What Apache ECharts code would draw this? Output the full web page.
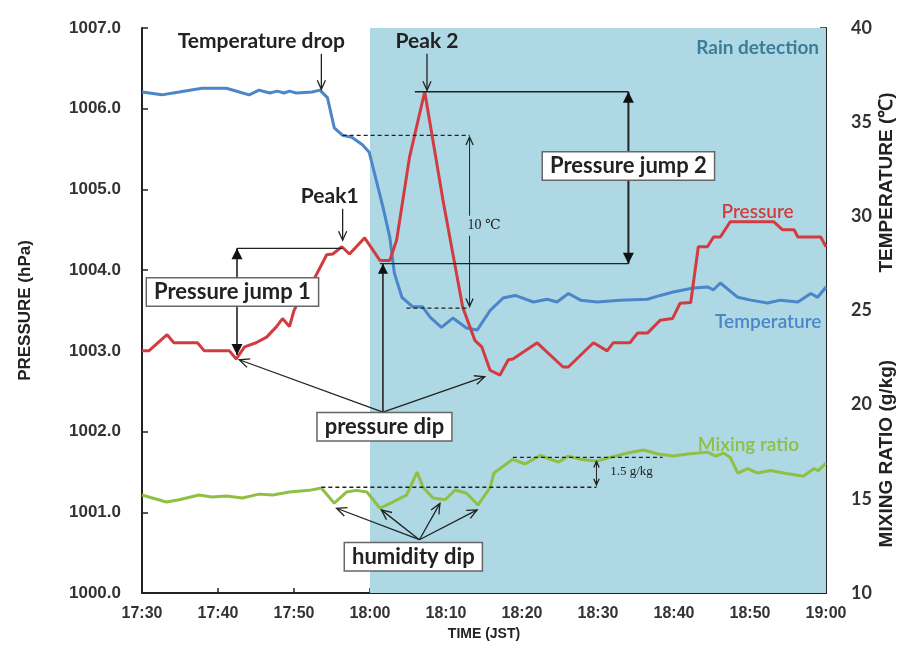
<!DOCTYPE html>
<html><head><meta charset="utf-8">
<script src="https://cdn.jsdelivr.net/npm/echarts@6/dist/echarts.min.js"></script>
<style>html,body{margin:0;padding:0;background:#fff}#c{width:905px;height:657px}</style>
</head><body><div id="c"></div>
<script>
// x values are minutes after 17:30 JST
const timeLabels = ['17:30','17:40','17:50','18:00','18:10','18:20','18:30','18:40','18:50','19:00'];

const pressureTime  = [0,0.9,3.3,4.2,7.3,8.2,11.5,12.4,13.5,15.0,16.4,17.7,18.5,19.4,20.0,20.7,22.7,24.3,25.1,26.3,27.3,29.3,31.3,32.6,33.5,35.2,37.2,39.6,42.2,43.8,44.7,45.8,47.1,48.2,48.8,52.0,55.4,56.1,59.4,61.2,62.0,64.2,65.2,66.5,68.2,69.8,70.8,72.2,73.2,74.4,75.2,76.1,77.4,83.1,84.3,85.8,86.3,89.3,90];
const pressureValue = [1003.0,1003.0,1003.2,1003.1,1003.1,1003.0,1003.0,1002.9,1003.05,1003.1,1003.17,1003.3,1003.4,1003.3,1003.5,1003.63,1003.9,1004.19,1004.2,1004.29,1004.2,1004.4,1004.12,1004.12,1004.37,1005.4,1006.21,1004.87,1003.54,1003.13,1003.05,1002.76,1002.7,1002.89,1002.9,1003.1,1002.8,1002.8,1003.1,1003.0,1003.1,1003.1,1003.22,1003.22,1003.38,1003.4,1003.59,1003.6,1004.29,1004.29,1004.41,1004.41,1004.6,1004.6,1004.5,1004.5,1004.41,1004.41,1004.29];

const temperatureTime  = [0,2.6,4.9,7.9,11.1,12.8,14.1,15.4,16.8,17.8,18.7,19.4,20.3,22.4,23.4,24.4,25.3,26.4,27.6,29.0,29.9,31.7,32.6,33.2,34.2,35.6,36.9,37.9,39.4,40.9,42.7,44.1,45.8,47.5,49.1,51.5,53.3,54.6,56.1,57.7,59.9,62.9,66.5,68.2,69.9,72.6,74.4,75.2,76.1,78.4,80.1,82.3,84.0,86.3,88.0,88.9,90];
const temperatureValue = [36.6,36.45,36.6,36.8,36.8,36.6,36.45,36.7,36.55,36.65,36.55,36.65,36.55,36.6,36.7,36.3,34.7,34.3,34.2,33.8,33.4,30.5,28.9,27.0,25.7,25.2,25.2,24.65,24.1,24.6,24.07,23.96,25.0,25.66,25.8,25.45,25.6,25.45,25.9,25.55,25.45,25.55,25.6,25.8,25.98,26.2,26.25,26.1,26.46,25.7,25.55,25.4,25.55,25.45,25.9,25.7,26.25];

const mixingTime  = [0,3.2,4.9,7.5,9.2,11.1,13.2,15.4,17.2,19.4,22.0,23.6,25.3,26.9,28.2,29.6,31.3,33.0,34.8,36.2,37.0,38.3,39.9,41.2,42.7,44.2,45.8,46.3,48.8,50.4,52.4,54.8,56.1,57.7,59.9,61.6,63.9,66.0,67.9,69.9,71.8,74.4,75.5,76.5,77.4,78.4,79.7,81.0,82.7,84.4,87.0,88.4,89.0,90];
const mixingValue = [15.2,14.83,14.95,15.2,15.1,15.15,15.04,15.25,15.2,15.36,15.45,15.57,14.77,15.36,15.45,15.36,14.5,14.83,15.2,16.42,15.6,15.04,14.95,15.47,15.3,14.67,15.6,16.37,17.1,16.85,17.3,16.95,17.27,17.1,17.0,17.2,17.43,17.59,17.38,17.27,17.38,17.48,17.27,17.43,17.2,16.37,16.6,16.37,16.5,16.37,16.2,16.6,16.5,16.9];

const rainStart = 30, rainEnd = 90;

const RED = '#d23b40', BLUE = '#4a86c8', GREEN = '#8fc044', RAIN = '#aed8e4';
const zip = (a, b) => a.map((v, i) => [v, b[i]]);

const chart = echarts.init(document.getElementById('c'), null, {renderer: 'canvas'});
const SANS = 'Liberation Sans, Arial, sans-serif';

chart.setOption({
  animation: false,
  backgroundColor: '#fff',
  grid: {left: 142, right: 79, top: 28, bottom: 64},
  xAxis: {
    type: 'value', min: 0, max: 90, interval: 10,
    name: 'TIME (JST)', nameLocation: 'middle', nameGap: 33,
    nameTextStyle: {fontFamily: SANS, fontSize: 14, fontWeight: 'bold', color: '#222'},
    axisLine: {show: true, lineStyle: {color: '#222', width: 2}},
    axisTick: {show: true, inside: true, length: 5, lineStyle: {color: '#222', width: 1.5}},
    axisLabel: {fontSize: 16, fontWeight: 'bold', margin: 13, fontFamily: SANS, color: '#333',
      formatter: v => timeLabels[Math.round(v / 10)]},
    splitLine: {show: false}
  },
  yAxis: [{
    type: 'value', min: 1000, max: 1007, interval: 1,
    name: 'PRESSURE (hPa)', nameLocation: 'middle', nameGap: 108, nameRotate: 90,
    nameTextStyle: {fontFamily: SANS, fontSize: 17, fontWeight: 'bold', color: '#222'},
    axisLine: {show: true, lineStyle: {color: '#222', width: 2}},
    axisTick: {show: true, inside: true, length: 6, lineStyle: {color: '#222', width: 1.5}},
    axisLabel: {fontSize: 17, fontWeight: 'bold', margin: 21, fontFamily: SANS, color: '#333',
      formatter: v => v.toFixed(1)},
    splitLine: {show: false}
  }, {
    type: 'value', min: 10, max: 40, interval: 5, position: 'right',
    axisLine: {show: true, lineStyle: {color: '#222', width: 2}},
    axisTick: {show: true, inside: true, length: 6, lineStyle: {color: '#222', width: 1.5}},
    axisLabel: {fontSize: 18, fontWeight: 'bold', margin: 25, fontFamily: 'Lato, Liberation Sans', color: '#333'},
    splitLine: {show: false}
  }],
  series: [{
    type: 'line', name: 'rain', data: [], z: 0, silent: true,
    markArea: {silent: true, itemStyle: {color: RAIN, opacity: 1},
      data: [[{xAxis: rainStart, yAxis: 1000}, {xAxis: rainEnd, yAxis: 1007}]]}
  }, {
    type: 'line', name: 'Temperature', yAxisIndex: 1, data: zip(temperatureTime, temperatureValue),
    showSymbol: false, z: 3, lineStyle: {color: BLUE, width: 3}, itemStyle: {color: BLUE}
  }, {
    type: 'line', name: 'Pressure', yAxisIndex: 0, data: zip(pressureTime, pressureValue),
    showSymbol: false, z: 4, lineStyle: {color: RED, width: 3}, itemStyle: {color: RED}
  }, {
    type: 'line', name: 'Mixing ratio', yAxisIndex: 1, data: zip(mixingTime, mixingValue),
    showSymbol: false, z: 3, lineStyle: {color: GREEN, width: 3}, itemStyle: {color: GREEN}
  }]
});

// ---- annotations, placed in data coordinates (minutes, hPa) ----
const P = (t, p) => chart.convertToPixel({xAxisIndex: 0, yAxisIndex: 0}, [t, p]);
const PR = (t, v) => chart.convertToPixel({xAxisIndex: 0, yAxisIndex: 1}, [t, v]);
const G = [];
const Z = 20;
function seg(a, b, o) {
  o = o || {};
  const A = P(a[0], a[1]), B = P(b[0], b[1]);
  G.push({type: 'line', z: Z, shape: {x1: A[0], y1: A[1], x2: B[0], y2: B[1]},
    style: {stroke: o.color || '#222', lineWidth: o.w || 1.3, lineDash: o.dash || null}});
}
function head(tip, from, filled, size, color) {
  const T = P(tip[0], tip[1]), F = P(from[0], from[1]);
  let dx = T[0] - F[0], dy = T[1] - F[1];
  const L = Math.hypot(dx, dy); dx /= L; dy /= L;
  const s = size || 9, w = filled ? s * 0.5 : s * 0.45;
  const bx = T[0] - dx * s, by = T[1] - dy * s;
  const p1 = [bx - dy * w, by + dx * w], p2 = [bx + dy * w, by - dx * w];
  if (filled) G.push({type: 'polygon', z: Z + 1, shape: {points: [T, p1, p2]}, style: {fill: color || '#111'}});
  else G.push({type: 'polyline', z: Z + 1, shape: {points: [p1, T, p2]}, style: {stroke: color || '#222', lineWidth: 1.3, fill: null}});
}
function arrow(a, b, filled, size, o) { seg(a, b, o); head(b, a, filled, size); }
function dbl(a, b, filled, size, o) { seg(a, b, o); head(b, a, filled, size); head(a, b, filled, size); }
const LATO = 'Lato, "Liberation Sans", sans-serif';
function txt(t, p, s, st) {
  const X = P(t, p);
  G.push({type: 'text', z: Z + 2, x: X[0], y: X[1], style: Object.assign({
    text: s, align: 'center', verticalAlign: 'middle', fill: '#222',
    font: 'bold 21px ' + LATO}, st || {})});
}
function box(t, p, s) {
  txt(t, p, s, {backgroundColor: '#fff', borderColor: '#666', borderWidth: 1.5, padding: [3, 7, 2, 7],
    font: 'bold 22px ' + LATO});
}

// Temperature drop
txt(15.7, 1006.83, 'Temperature drop');
arrow([23.6, 1006.68], [23.6, 1006.24], false, 9);
// Peak 2
txt(37.5, 1006.83, 'Peak 2');
arrow([37.5, 1006.68], [37.5, 1006.23], false, 9);
// Rain detection
txt(81.0, 1006.75, 'Rain detection', {fill: '#3b7c98', font: 'bold 19px ' + LATO});
// Pressure jump 2
seg([35.9, 1006.21], [64.0, 1006.21]);
seg([31.3, 1004.08], [64.0, 1004.08]);
dbl([64.0, 1006.21], [64.0, 1004.08], true, 11, {w: 2});
box(64.0, 1005.29, 'Pressure jump 2');
// 10 degC drop
seg([26.4, 1005.67], [43.1, 1005.67], {dash: [4, 3]});
seg([34.8, 1003.53], [43.1, 1003.53], {dash: [4, 3]});
dbl([43.1, 1005.65], [43.1, 1003.55], false, 8, {w: 1});
txt(45.0, 1004.55, '10 \u2103', {font: '14px "Liberation Serif", "DejaVu Serif", serif', backgroundColor: RAIN, padding: [3, 1]});
// Peak1
txt(24.7, 1004.92, 'Peak1');
arrow([26.4, 1004.76], [26.4, 1004.37], false, 9);
// Pressure jump 1
seg([12.5, 1004.27], [26.4, 1004.27]);
dbl([12.5, 1004.27], [12.5, 1002.95], true, 11, {w: 1.6});
box(11.9, 1003.73, 'Pressure jump 1');
// pressure dip
arrow([31.7, 1002.24], [31.7, 1004.08], true, 10, {w: 1.6});
arrow([31.7, 1002.24], [12.8, 1002.89], false, 10);
arrow([31.7, 1002.24], [45.1, 1002.68], false, 10);
box(31.9, 1002.06, 'pressure dip');
// 1.5 g/kg
seg([23.6, 1001.31], [59.8, 1001.31], {dash: [4, 3]});
seg([48.8, 1001.68], [68.5, 1001.68], {dash: [4, 3]});
dbl([59.8, 1001.63], [59.8, 1001.34], false, 6, {w: 1});
txt(61.6, 1001.50, '1.5 g/kg', {align: 'left', font: '13px "Liberation Serif", "DejaVu Serif", serif'});
// humidity dip
const hd = [36.5, 1000.66];
arrow(hd, [25.6, 1001.05], false, 10);
arrow(hd, [31.5, 1001.03], false, 10);
arrow(hd, [39.2, 1001.11], false, 10);
arrow(hd, [44.1, 1001.03], false, 10);
box(35.7, 1000.45, 'humidity dip');
// series labels
txt(81.0, 1004.72, 'Pressure', {fill: RED, font: '600 19px ' + LATO});
txt(82.4, 1003.36, 'Temperature', {fill: BLUE, font: '600 19px ' + LATO});
txt(79.8, 1001.83, 'Mixing ratio', {fill: GREEN, font: '600 19px ' + LATO});

// right-axis titles (two stacked rotated titles)
const tA = PR(90, 31.8), tB = PR(90, 17.4);
G.push({type: 'text', z: Z, x: tA[0] + 61, y: tA[1], rotation: Math.PI / 2,
  style: {text: 'TEMPERATURE (\u2103)', align: 'center', verticalAlign: 'middle', fill: '#222', font: 'bold 19px ' + SANS}});
G.push({type: 'text', z: Z, x: tB[0] + 61, y: tB[1], rotation: Math.PI / 2,
  style: {text: 'MIXING RATIO (g/kg)', align: 'center', verticalAlign: 'middle', fill: '#222', font: 'bold 19px ' + SANS}});

chart.setOption({graphic: G});
</script>
</body></html>
